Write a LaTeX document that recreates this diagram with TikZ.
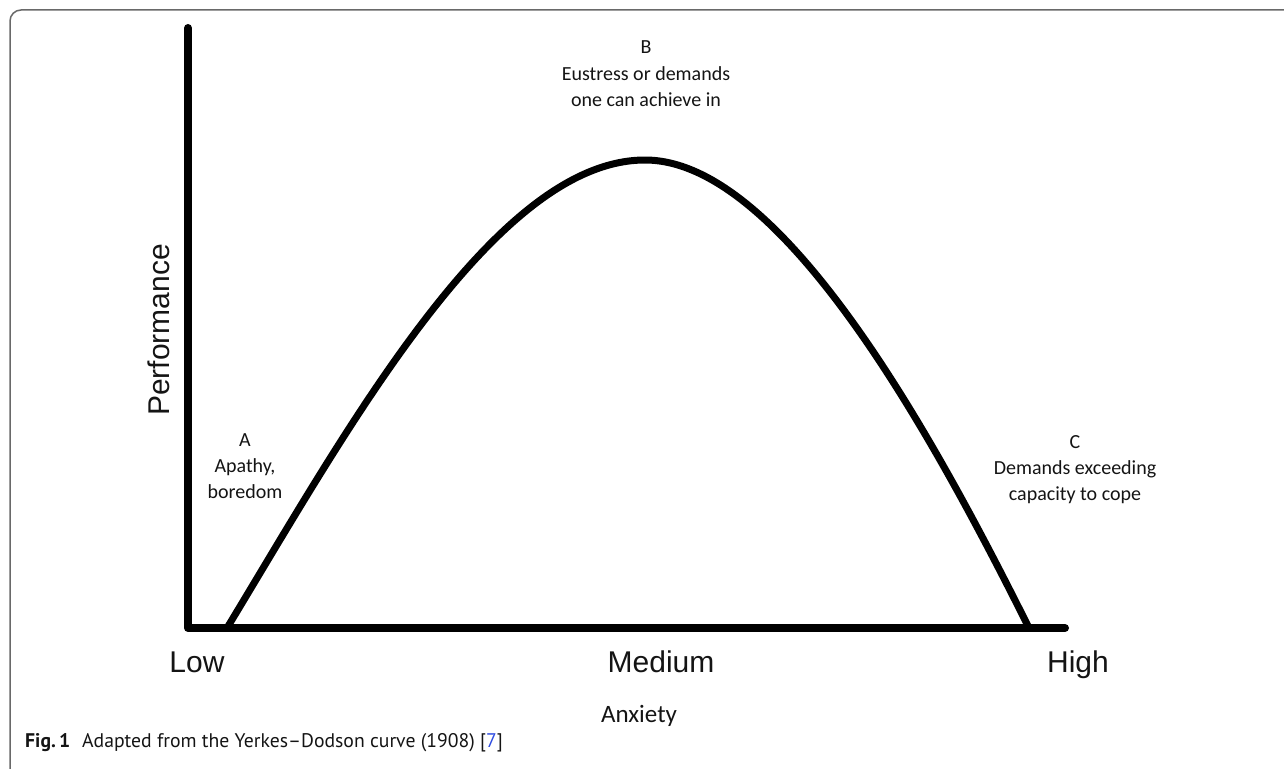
\documentclass[tikz,border=0pt]{standalone}
\usepackage{fontspec}
\setmainfont{Carlito}
\newfontfamily\axisfont{Liberation Sans}
\newfontfamily\capfont{PT Sans}
\definecolor{framegray}{RGB}{105,105,105}
\definecolor{inkblack}{RGB}{20,20,20}
\definecolor{refblue}{RGB}{45,75,225}
\begin{document}
\begin{tikzpicture}[x=1pt,y=-1pt,
  axisline/.style={line width=8pt,line cap=round,line join=round,draw=black},
  curveline/.style={line width=7pt,line cap=round,line join=round,draw=black},
  axlabel/.style={font=\axisfont\fontsize{30}{36}\selectfont,text=inkblack,inner sep=0pt,anchor=base},
  zonelabel/.style={font=\fontsize{20}{26}\selectfont,text=inkblack,inner sep=0pt,anchor=base},
  titlelabel/.style={font=\fontsize{25}{30}\selectfont,text=inkblack,inner sep=0pt,anchor=base}]
\useasboundingbox (0,0) rectangle (1284,768);
\begin{scope}
\clip (0,0) rectangle (1284,768);
\draw[framegray,line width=1.5pt,rounded corners=11pt] (1300,10) -- (10,10) -- (10,790) -- (1300,790);
\end{scope}
% axes
\coordinate (ytop) at (188,28);
\coordinate (origin) at (188,628);
\coordinate (xend) at (1065,628);
\draw[axisline] (ytop) -- (origin) -- (xend);
% curve
\coordinate (cstart) at (227,628);
\coordinate (cpeak) at (645,160);
\coordinate (cend) at (1029,628);
\draw[curveline] (cstart) .. controls (347,430) and (495,160) .. (cpeak)
  .. controls (785,160) and (939,448) .. (cend);
% labels
\node[zonelabel] (labB) at (646,54) {\setlength\tabcolsep{0pt}\begin{tabular}[t]{c}B\\Eustress or demands\\one can achieve in\end{tabular}};
\node[zonelabel] (labA) at (245,446) {\setlength\tabcolsep{0pt}\begin{tabular}[t]{c}A\\Apathy,\\boredom\end{tabular}};
\node[zonelabel] (labC) at (1075,448) {\setlength\tabcolsep{0pt}\begin{tabular}[t]{c}C\\Demands exceeding\\capacity to cope\end{tabular}};
\node[axlabel,rotate=90] (perf) at (169,330) {Performance};
\node[axlabel] (low) at (197,672) {Low};
\node[axlabel] (med) at (661,672) {Medium};
\node[axlabel] (high) at (1078,672) {High};
\node[titlelabel] (anx) at (639,722) {Anxiety};
\node[font=\capfont\fontsize{19.7}{23}\selectfont,text=inkblack,inner sep=0pt,anchor=base west] (cap) at (25,747)
 {\textbf{Fig.\,1}\hspace{0.6em}Adapted from the Yerkes–Dodson curve (1908) [{\color{refblue}7}]};
\end{tikzpicture}
\end{document}
